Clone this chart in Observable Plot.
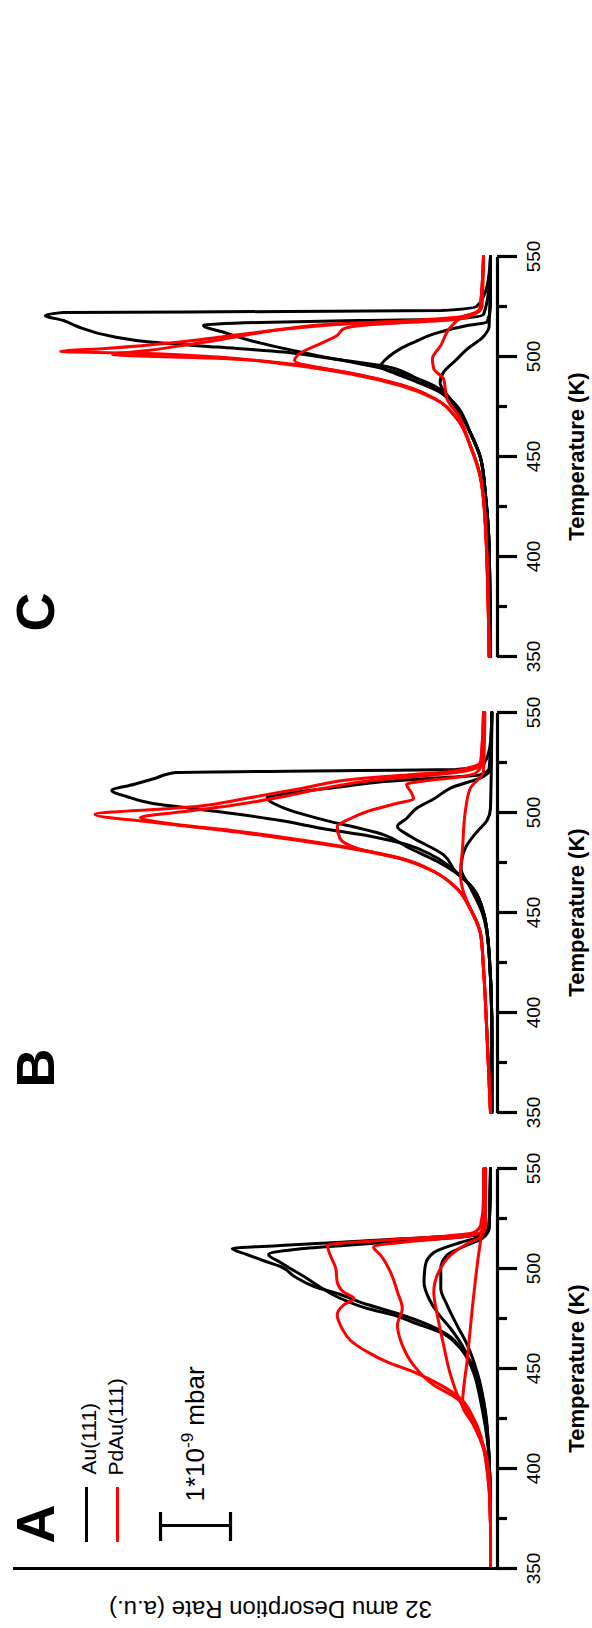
<!DOCTYPE html>
<html><head><meta charset="utf-8">
<script src="https://cdn.jsdelivr.net/npm/d3@7"></script>
<script src="https://cdn.jsdelivr.net/npm/@observablehq/plot@0.6"></script>
<style>
html,body{margin:0;padding:0;background:#fff;}
body{width:592px;height:1628px;overflow:hidden;position:relative;}
#wrap{position:absolute;left:0;top:0;width:1628px;height:592px;transform-origin:0 0;transform:translate(0px,1628px) rotate(-90deg);}
</style></head><body><div id="wrap"></div>
<script>
// ---- data: [temperature K, desorption rate in units of 1e-9 mbar] ----
const panels = ["A", "B", "C"];
const ticksMajor = [350, 400, 450, 500, 550];
const ticksMinor = [375, 425, 475, 525];
const legendLabels = ["Au(111)", "PdAu(111)"];

// Panel A
const aAu1 = [[350,0.1],[372,0.1],[405,0.12],[430,0.2],[447,0.29],[458,0.48],[467,0.72],[472,1.0],[477.5,1.43],[482,1.86],[487.5,2.29],[491,2.62],[496,2.9],[501,3.1],[504,3.35],[507,3.58],[510,3.79],[511.5,3.1],[513,2.3],[515,1.3],[516.5,0.5],[518,0.2],[522,0.12],[550,0.1]];
const aAu2 = [[350,0.1],[372,0.1],[405,0.12],[433,0.2],[448,0.34],[460,0.53],[468,0.81],[473,1.2],[476.7,1.48],[480,1.86],[485,2.24],[490,2.5],[495,2.72],[503,3.1],[507,3.27],[509.5,2.9],[511.5,2.2],[513.5,1.4],[515.5,0.6],[517,0.25],[522,0.12],[550,0.1]];
const aAu3 = [[350,0.1],[380,0.1],[405,0.12],[430,0.22],[448,0.34],[460,0.48],[470,0.67],[478,0.86],[485,0.98],[493,1.05],[501.7,1.03],[508,0.91],[513,0.53],[516,0.24],[520,0.12],[550,0.1]];
const aAu4 = [[350,0.1],[380,0.1],[405,0.12],[428,0.17],[448,0.29],[461.7,0.43],[471.7,0.58],[481.7,0.72],[490,0.81],[500,0.81],[506.7,0.72],[511,0.48],[515,0.22],[520,0.12],[550,0.1]];
const aPd1 = [[350,0.1],[372,0.1],[405,0.17],[425,0.34],[435,0.53],[441.7,0.81],[448.3,1.2],[453.3,1.58],[458.3,1.86],[464,2.1],[470,2.22],[476.7,2.29],[481.7,2.2],[485,2.05],[488.3,2.2],[493.3,2.29],[500,2.31],[506.7,2.39],[511.7,2.43],[514,1.67],[516.3,0.72],[518,0.34],[521.7,0.24],[535,0.2],[550,0.2]];
const aPd2 = [[350,0.1],[372,0.1],[405,0.17],[426.7,0.39],[435,0.58],[441.7,0.91],[451.7,1.2],[461.7,1.36],[471.7,1.43],[480,1.36],[488.3,1.43],[498.3,1.53],[506.7,1.67],[510.8,1.77],[513.7,1.2],[516.3,0.39],[519,0.22],[535,0.18],[550,0.17]];
const aPd3 = [[350,0.1],[372,0.1],[405,0.15],[421.7,0.34],[433.3,0.53],[446.7,0.67],[461.7,0.77],[476.7,0.86],[488.3,0.91],[498.3,0.84],[506.7,0.67],[512.5,0.43],[515.8,0.24],[521.7,0.17],[550,0.17]];
const aPd4 = [[350,0.1],[372,0.1],[396.7,0.12],[421.7,0.34],[431.7,0.5],[455,0.43],[480,0.36],[501.7,0.29],[520,0.22],[550,0.17]];

// Panel B
const bAu1 = [[350,0.08],[390,0.08],[430,0.12],[450,0.2],[462,0.35],[470.5,0.6],[478,0.9],[484,1.3],[488,1.8],[492,2.5],[496,3.1],[500.5,4.0],[504.7,4.96],[508,5.3],[511,5.51],[514,5.2],[517,4.9],[520,4.6],[521,2.0],[521.5,0.6],[524,0.2],[535,0.1],[550,0.08]];
const bAu2 = [[350,0.08],[390,0.08],[430,0.12],[450,0.2],[462,0.35],[470.5,0.62],[475.5,0.86],[482,1.25],[488.8,1.62],[497.2,2.58],[502.2,3.05],[507.5,3.29],[510,2.9],[513,2.2],[515.5,1.62],[517,1.0],[518.8,0.25],[522,0.12],[550,0.08]];
const bAu3 = [[350,0.08],[390,0.08],[430,0.12],[450,0.2],[462,0.35],[470.5,0.6],[478.8,0.77],[488,1.24],[493,1.43],[497,1.3],[502.2,1.15],[507,0.9],[512.2,0.67],[518,0.2],[522,0.1],[550,0.08]];
const bAu4 = [[350,0.08],[390,0.08],[430,0.12],[450,0.22],[462,0.38],[472,0.52],[478,0.5],[482.2,0.46],[490.5,0.29],[496,0.15],[502.2,0.1],[550,0.08]];
const bPd1 = [[350,0.1],[389,0.15],[422,0.2],[439,0.24],[452,0.39],[462,0.58],[470.5,0.91],[477,1.39],[482,2.1],[487,3.05],[491,3.9],[495,4.9],[499,5.75],[503,4.3],[507,3.6],[512,2.8],[517,1.95],[519,1.2],[520.5,0.67],[525.5,0.24],[550,0.2]];
const bPd2 = [[350,0.1],[389,0.15],[422,0.2],[439,0.24],[452,0.39],[462,0.58],[470.5,0.91],[477,1.37],[482,2.05],[487,2.95],[491,3.8],[494.5,4.7],[497.5,5.1],[500,4.6],[503,3.9],[507,3.2],[512,2.5],[516,1.8],[518.5,1.0],[520.5,0.5],[524,0.24],[550,0.2]];
const bPd3 = [[350,0.1],[389,0.15],[422,0.2],[439,0.24],[452,0.39],[462,0.58],[470.5,0.91],[477,1.39],[482,2.0],[487,2.25],[493,2.29],[497,2.1],[500.5,1.86],[504,1.5],[507,1.2],[511,1.25],[514,1.3],[516,1.0],[518,0.5],[520,0.3],[525,0.22],[550,0.2]];
const bPd4 = [[350,0.1],[389,0.15],[422,0.2],[439,0.24],[452,0.39],[462,0.5],[468.8,0.53],[482,0.5],[500.5,0.46],[512,0.39],[520.5,0.2],[550,0.18]];

// Panel C
const cAu1 = [[350,0.1],[405,0.12],[430,0.17],[449,0.24],[462,0.39],[474,0.58],[482,0.81],[489,1.15],[495.5,1.67],[498.8,2.34],[502.2,3.05],[504.7,4.0],[507.2,4.96],[510,5.5],[515,6.0],[518,6.2],[520.5,6.46],[522,6.2],[522.5,3.0],[523,0.8],[525,0.3],[535,0.15],[550,0.1]];
const cAu2 = [[350,0.1],[405,0.12],[430,0.17],[449,0.24],[462,0.39],[474,0.58],[485.5,0.91],[493.8,1.62],[502.2,2.81],[508,3.53],[512,3.9],[515.5,4.2],[517,3.4],[518,2.0],[518.8,0.6],[521,0.2],[535,0.12],[550,0.1]];
const cAu3 = [[350,0.1],[405,0.12],[430,0.17],[449,0.24],[462,0.39],[474,0.58],[482,0.81],[488,1.2],[492,1.5],[495,1.67],[500,1.55],[503.8,1.39],[507,1.2],[511.3,0.91],[515.5,0.43],[517.2,0.15],[525,0.1],[550,0.1]];
const cAu4 = [[350,0.1],[405,0.12],[430,0.17],[449,0.24],[462,0.39],[474,0.55],[482,0.75],[487,0.82],[492.2,0.77],[498,0.6],[503.8,0.43],[510,0.2],[515,0.12],[550,0.1]];
const cPd1 = [[350,0.12],[414,0.17],[439,0.24],[455.5,0.39],[469,0.58],[479,0.91],[485.5,1.39],[491.3,2.1],[496.3,3.05],[499.7,4.0],[501.5,5.0],[502.5,6.24],[504,5.6],[507,4.6],[510,3.9],[513,3.2],[516,2.3],[518,1.2],[520,0.5],[524,0.25],[550,0.2]];
const cPd2 = [[350,0.12],[414,0.17],[439,0.24],[455.5,0.39],[469,0.58],[479,0.9],[485.5,1.35],[491,2.0],[496,2.9],[499,3.9],[501,5.5],[503,5.0],[506,4.4],[510,3.7],[514,3.0],[516.5,2.2],[518,1.0],[520,0.45],[524,0.25],[550,0.2]];
const cPd3 = [[350,0.12],[414,0.17],[439,0.24],[455.5,0.39],[469,0.58],[479,0.9],[485.5,1.35],[491,2.0],[498,2.9],[500.5,2.86],[507.2,2.48],[510.5,2.29],[513.8,2.2],[516,1.8],[518,0.8],[520,0.4],[525,0.22],[550,0.2]];
const cPd4 = [[350,0.12],[414,0.17],[439,0.24],[455.5,0.39],[470,0.55],[478.8,0.72],[488.8,0.77],[493.8,0.91],[498.8,0.93],[505.5,0.81],[514.7,0.67],[519.7,0.5],[523,0.25],[550,0.2]];

// ---- build table ----
const curves = [
  ["A","Au(111)",aAu1],["A","Au(111)",aAu2],["A","Au(111)",aAu3],["A","Au(111)",aAu4],
  ["A","PdAu(111)",aPd1],["A","PdAu(111)",aPd2],["A","PdAu(111)",aPd3],["A","PdAu(111)",aPd4],
  ["B","Au(111)",bAu1],["B","Au(111)",bAu2],["B","Au(111)",bAu3],["B","Au(111)",bAu4],
  ["B","PdAu(111)",bPd1],["B","PdAu(111)",bPd2],["B","PdAu(111)",bPd3],["B","PdAu(111)",bPd4],
  ["C","Au(111)",cAu1],["C","Au(111)",cAu2],["C","Au(111)",cAu3],["C","Au(111)",cAu4],
  ["C","PdAu(111)",cPd1],["C","PdAu(111)",cPd2],["C","PdAu(111)",cPd3],["C","PdAu(111)",cPd4]
];
const rows = curves.flatMap(([panel, material, pts], i) =>
  pts.map(([t, r]) => ({panel, material, id: i, t, r})));
const auRows = rows.filter(d => d.material === "Au(111)");
const pdRows = rows.filter(d => d.material === "PdAu(111)");

const RED = "#ff0000";
const FONT = "'Liberation Sans', Arial, Helvetica, sans-serif";
const yMax = 484 / 70;   // 70 px = 1e-9 mbar

const chart = Plot.plot({
  width: 1628, height: 592,
  marginLeft: 58, marginRight: 257, marginTop: 13, marginBottom: 95,
  style: {fontFamily: FONT, background: "#fff", overflow: "visible", color: "#000"},
  fx: {domain: panels, paddingInner: 0.1238, paddingOuter: 0, axis: null, label: null},
  x: {domain: [350, 550]},
  y: {domain: [0, yMax], axis: null},
  marks: [
    // curves
    Plot.line(auRows, {x: "t", y: "r", z: "id", fx: "panel", stroke: "#000", strokeWidth: 3, curve: "monotone-x"}),
    Plot.line(pdRows, {x: "t", y: "r", z: "id", fx: "panel", stroke: RED, strokeWidth: 3, curve: "monotone-x"}),
    // x axis line + ticks
    Plot.ruleY([0], {x1: () => 350, x2: () => 550, stroke: "#000", strokeWidth: 3.2}),
    Plot.axisX({ticks: ticksMajor, tickSize: 20, tickPadding: 9, strokeWidth: 3.2, fontSize: 19, label: null}),
    Plot.axisX({ticks: ticksMinor, tickSize: 10, tickFormat: () => "", strokeWidth: 3.2, label: null}),
    Plot.text(panels, {fx: d => d, x: () => 450, y: () => -79 / 70, text: () => "Temperature (K)",
      fontSize: 22, fontWeight: "bold", lineAnchor: "middle"}),
    // y axis line (panel A only)
    Plot.ruleX(["A"], {fx: d => d, x: () => 350, y1: () => 0, y2: () => yMax, stroke: "#000", strokeWidth: 3.2}),
    Plot.text(["A"], {fx: d => d, x: () => 330, y: () => 227 / 70, text: () => "32 amu Desorption Rate (a.u.)",
      rotate: -90, fontSize: 24, lineAnchor: "middle"}),
    // panel letters
    Plot.text(panels, {fx: d => d, x: () => 362.5, y: () => 444 / 70, text: d => d,
      fontSize: 54, fontWeight: "bold", textAnchor: "start", lineAnchor: "bottom"}),
    // legend
    Plot.ruleY(["A"], {fx: d => d, y: () => 411 / 70, x1: () => 363.5, x2: () => 391, stroke: "#000", strokeWidth: 3}),
    Plot.ruleY(["A"], {fx: d => d, y: () => 380 / 70, x1: () => 363.5, x2: () => 391, stroke: RED, strokeWidth: 3}),
    Plot.text(["A"], {fx: d => d, x: () => 397, y: () => 408 / 70, text: () => legendLabels[0],
      fontSize: 21, textAnchor: "start", lineAnchor: "middle"}),
    Plot.text(["A"], {fx: d => d, x: () => 396.5, y: () => 381 / 70, text: () => legendLabels[1],
      fontSize: 21, textAnchor: "start", lineAnchor: "middle"}),
    // scale bar: 1e-9 mbar
    Plot.ruleX(["A"], {fx: d => d, x: () => 371.5, y1: () => 267 / 70, y2: () => 337 / 70, stroke: "#000", strokeWidth: 3.2}),
    Plot.ruleY([267 / 70, 337 / 70], {fx: () => "A", y: d => d, x1: () => 364, x2: () => 378.5, stroke: "#000", strokeWidth: 3.2}),
    Plot.text(["A"], {fx: d => d, x: () => 383.5, y: () => 294 / 70, text: () => "1*10-9 mbar",
      fontSize: 26, textAnchor: "start", lineAnchor: "bottom"})
  ]
});

// superscript exponent on the scale-bar label
const NS = "http://www.w3.org/2000/svg";
for (const t of chart.querySelectorAll("text")) {
  if (t.textContent === "1*10-9 mbar") {
    t.textContent = "";
    const a = document.createElementNS(NS, "tspan"); a.textContent = "1*10";
    const b = document.createElementNS(NS, "tspan"); b.textContent = "-9";
    b.setAttribute("font-size", "17"); b.setAttribute("dy", "-11");
    const c = document.createElementNS(NS, "tspan"); c.textContent = "\u00a0mbar"; c.setAttribute("dy", "11");
    t.append(a, b, c);
  }
}
document.getElementById("wrap").appendChild(chart);
</script></body></html>
